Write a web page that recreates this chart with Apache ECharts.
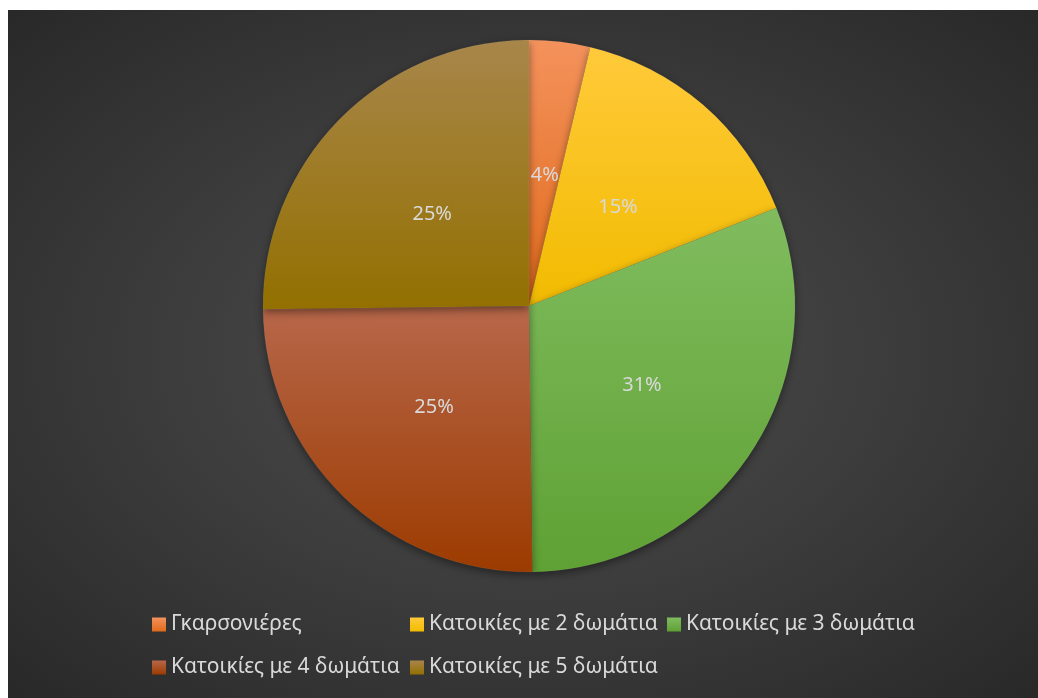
<!DOCTYPE html>
<html>
<head>
<meta charset="utf-8">
<script src="https://cdn.jsdelivr.net/npm/echarts@6/dist/echarts.min.js"></script>
<style>
html,body{margin:0;padding:0;background:#ffffff;width:1038px;height:698px;overflow:hidden;}
#chart{position:absolute;left:8px;top:10px;width:1030px;height:688px;
background:radial-gradient(ellipse 75% 75% at 50% 50%, #4e4e4e 0%, #3d3d3d 45%, #262626 100%);}
</style>
</head>
<body>
<div id="chart"></div>
<script>
const categories = ['Γκαρσονιέρες','Κατοικίες με 2 δωμάτια','Κατοικίες με 3 δωμάτια','Κατοικίες με 4 δωμάτια','Κατοικίες με 5 δωμάτια'];
const values = [37, 153, 308, 250, 252];
const topColors = ['#F4925C','#FFCA3A','#80BC5E','#B7674A','#A8864A'];
const bottomColors = ['#E06A1A','#F2BB00','#5FA134','#9C3B00','#937000'];

function grad(i){
  return {type:'linear',x:0,y:0,x2:0,y2:1,colorStops:[{offset:0,color:topColors[i]},{offset:1,color:bottomColors[i]}]};
}
const data = categories.map((c,i)=>({name:c,value:values[i],itemStyle:{color:grad(i)}}));

const font = '"Noto Sans", "Open Sans", sans-serif';
const legendPos = [[144,604],[402,604],[659,604],[144,647],[402,647]];
const legends = categories.map((c,i)=>({
  data:[c], left:legendPos[i][0], top:legendPos[i][1], padding:0,
  itemWidth:14, itemHeight:14, icon:'rect', selectedMode:false,
  itemStyle:{borderWidth:0, shadowBlur:0, shadowOffsetY:0},
  textStyle:{color:'#D9D9D9', fontSize:21, fontFamily:font, lineHeight:20}
}));

const chart = echarts.init(document.getElementById('chart'));
chart.setOption({
  backgroundColor:'transparent',
  animation:false,
  legend: legends,
  series:[{
    type:'pie',
    center:[521,296],
    radius:266,
    startAngle:90,
    clockwise:true,
    percentPrecision:0,
    data:data,
    label:{show:true, position:'inside', formatter:'{d}%', color:'#D9D9D9', fontSize:20, fontFamily:font, offset:[0,4]},
    labelLine:{show:false},
    itemStyle:{borderWidth:0.5, borderColor:'rgba(255,255,255,0.12)', shadowBlur:8, shadowOffsetY:3, shadowColor:'rgba(0,0,0,0.45)'},
    emphasis:{disabled:true}
  }]
});
</script>
</body>
</html>
